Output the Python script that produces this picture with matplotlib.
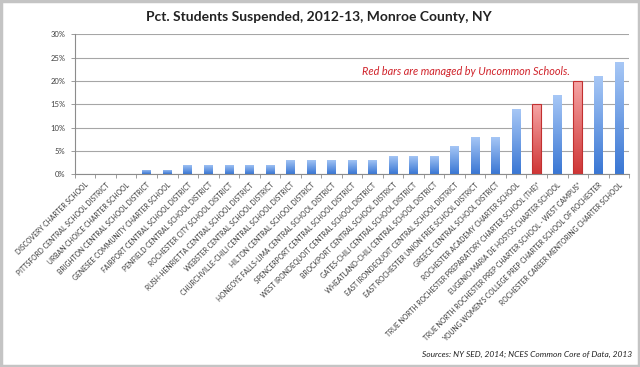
import numpy as np
import matplotlib
matplotlib.use('Agg')
from matplotlib import pyplot as plt
from matplotlib.colors import LinearSegmentedColormap
from matplotlib.patches import Rectangle
from matplotlib.ticker import FuncFormatter

plt.rcParams['font.family'] = ['Lato', 'DejaVu Sans']

schools = [
    'DISCOVERY CHARTER SCHOOL',
    'PITTSFORD CENTRAL SCHOOL DISTRICT',
    'URBAN CHOICE CHARTER SCHOOL',
    'BRIGHTON CENTRAL SCHOOL DISTRICT',
    'GENESEE COMMUNITY CHARTER SCHOOL',
    'FAIRPORT CENTRAL SCHOOL DISTRICT',
    'PENFIELD CENTRAL SCHOOL DISTRICT',
    'ROCHESTER CITY SCHOOL DISTRICT',
    'RUSH-HENRIETTA CENTRAL SCHOOL DISTRICT',
    'WEBSTER CENTRAL SCHOOL DISTRICT',
    'CHURCHVILLE-CHILI CENTRAL SCHOOL DISTRICT',
    'HILTON CENTRAL SCHOOL DISTRICT',
    'HONEOYE FALLS-LIMA CENTRAL SCHOOL DISTRICT',
    'SPENCERPORT CENTRAL SCHOOL DISTRICT',
    'WEST IRONDEQUOIT CENTRAL SCHOOL DISTRICT',
    'BROCKPORT CENTRAL SCHOOL DISTRICT',
    'GATES-CHILI CENTRAL SCHOOL DISTRICT',
    'WHEATLAND-CHILI CENTRAL SCHOOL DISTRICT',
    'EAST IRONDEQUOIT CENTRAL SCHOOL DISTRICT',
    'EAST ROCHESTER UNION FREE SCHOOL DISTRICT',
    'GREECE CENTRAL SCHOOL DISTRICT',
    'ROCHESTER ACADEMY CHARTER SCHOOL',
    'TRUE NORTH ROCHESTER PREPARATORY CHARTER SCHOOL (THE)*',
    'EUGENIO MARIA DE HOSTOS CHARTER SCHOOL',
    'TRUE NORTH ROCHESTER PREP CHARTER SCHOOL - WEST CAMPUS*',
    "YOUNG WOMEN'S COLLEGE PREP CHARTER SCHOOL OF ROCHESTER",
    'ROCHESTER CAREER MENTORING CHARTER SCHOOL',
]
pct_suspended = [0, 0, 0, 1, 1, 2, 2, 2, 2, 2, 3, 3, 3, 3, 3, 4, 4, 4,
                 6, 8, 8, 14, 15, 17, 20, 21, 24]
uncommon = [False] * 22 + [True, False, True, False, False]

blue_cm = LinearSegmentedColormap.from_list('blue', ['#3a77d4', '#a8c8f6'])
red_cm = LinearSegmentedColormap.from_list('red', ['#cf3636', '#f6a6a6'])
grad = np.linspace(1, 0, 64).reshape(-1, 1)

fig = plt.figure(figsize=(6.4, 3.67), dpi=100)
ax = fig.add_axes([0.117, 0.525, 0.866, 0.3815])

w = 0.42
x = np.arange(len(schools))
for xi, v, red in zip(x, pct_suspended, uncommon):
    if v == 0:
        continue
    edge = '#c23030' if red else 'none'
    bar = ax.bar(xi, v, w, color='none', edgecolor=edge, lw=0.8, zorder=3)[0]
    im = ax.imshow(grad, extent=[xi - w / 2, xi + w / 2, 0, v], aspect='auto',
                   cmap=red_cm if red else blue_cm, vmin=0, vmax=1, zorder=2)
    im.set_clip_path(bar)

ax.set_xlim(-0.5, len(schools) - 0.5)
ax.set_ylim(0, 30)
ax.set_yticks(np.arange(0, 31, 5))
ax.yaxis.set_major_formatter(FuncFormatter(lambda v, p: '%d%%' % v))
ax.grid(axis='y', color='#a6a6a6', lw=0.8, zorder=0)
ax.set_axisbelow(True)

for s in ['top', 'right']:
    ax.spines[s].set_visible(False)
for s in ['left', 'bottom']:
    ax.spines[s].set_color('#8c8c8c')
    ax.spines[s].set_linewidth(0.8)

ax.set_xticks(x)
ax.set_xticklabels(schools, rotation=45, ha='right', rotation_mode='anchor',
                   fontsize=4.85, color='#383838')
ax.set_xticks(np.arange(-0.5, len(schools), 1), minor=True)
ax.tick_params(axis='x', which='major', length=0, pad=5)
ax.tick_params(axis='x', which='minor', length=3, color='#8c8c8c', width=0.6)
ax.tick_params(axis='y', length=3, color='#8c8c8c', width=0.6,
               labelsize=5.5, labelcolor='#404040', pad=4)

ax.text(23.6, 22, 'Red bars are managed by Uncommon Schools.', color='#d0222a',
        style='italic', fontsize=7.8, ha='right', va='center')

fig.text(0.498, 0.954, 'Pct. Students Suspended, 2012-13, Monroe County, NY',
         ha='center', va='center', fontsize=10, fontweight='bold', color='#222222')
fig.text(0.988, 0.035, 'Sources: NY SED, 2014; NCES Common Core of Data, 2013',
         ha='right', va='center', fontsize=6, style='italic', color='#222222')

fig.patches.append(Rectangle((0.002, 0.003), 0.996, 0.994, transform=fig.transFigure,
                             fill=False, edgecolor='#c4c4c4', lw=2.5))

fig.savefig('out.png', dpi=100)
